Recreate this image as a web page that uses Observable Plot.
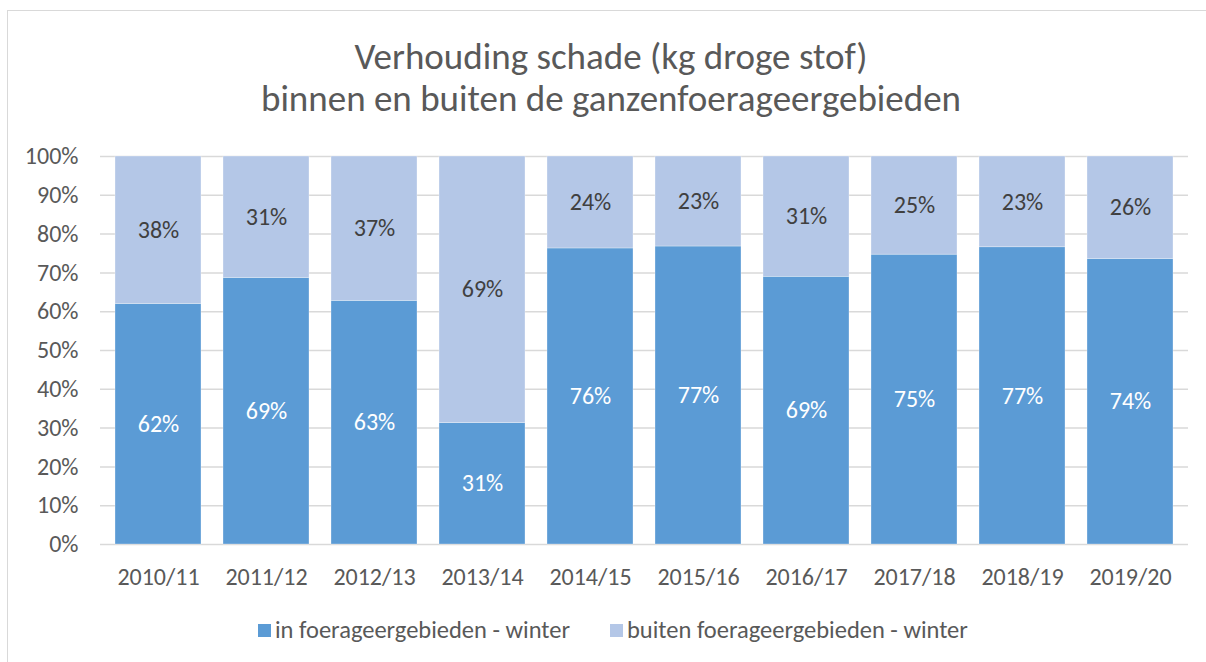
<!DOCTYPE html>
<html>
<head>
<meta charset="utf-8">
<script src="https://cdn.jsdelivr.net/npm/d3@7"></script>
<script src="https://cdn.jsdelivr.net/npm/@observablehq/plot@0.6"></script>
<style>
  html, body { margin: 0; padding: 0; background: #fff; overflow: hidden; }
  body { width: 1206px; height: 662px; position: relative; font-family: Carlito, Calibri, Lato, sans-serif; color: #595959; }
  #frame { position: absolute; left: 7px; top: 10px; width: 1400px; height: 800px; border-left: 1.5px solid #d9d9d9; border-top: 1.5px solid #d9d9d9; }
  #title { position: absolute; left: 8px; width: 1206px; top: 36px; text-align: center; font-size: 37px; line-height: 42px; font-weight: 300; color: #595959; }
  #chart { position: absolute; left: 0; top: 140px; }
  #legend { position: absolute; top: 615px; left: 0; width: 1206px; font-size: 24.5px; color: #595959; }
  .sw { position: absolute; display: flex; align-items: center; white-space: nowrap; }
  .sq { width: 13px; height: 13px; margin-right: 4px; display: inline-block; }
</style>
</head>
<body>
<div id="frame"></div>
<div id="title">Verhouding schade (kg droge stof)<br>binnen en buiten de ganzenfoerageergebieden</div>
<div id="chart"></div>
<div id="legend"></div>
<script>
const seasons = ["2010/11","2011/12","2012/13","2013/14","2014/15","2015/16","2016/17","2017/18","2018/19","2019/20"];
const seriesNames = ["in foerageergebieden - winter", "buiten foerageergebieden - winter"];
const inShare = [62.0, 68.7, 62.8, 31.3, 76.3, 76.8, 69.0, 74.7, 76.6, 73.6];
const outShare = [38.0, 31.3, 37.2, 68.7, 23.7, 23.2, 31.0, 25.3, 23.4, 26.4];
const colors = ["#5B9BD5", "#B4C7E7"];
const labelColors = ["#ffffff", "#404040"];
const yTicks = [0, 0.1, 0.2, 0.3, 0.4, 0.5, 0.6, 0.7, 0.8, 0.9, 1];

const rows = [];
seasons.forEach((s, i) => {
  rows.push({season: s, series: seriesNames[0], value: inShare[i] / 100});
  rows.push({season: s, series: seriesNames[1], value: outShare[i] / 100});
});

const stackOpts = {x: "season", y: "value", order: seriesNames};

const chart = Plot.plot({
  width: 1206,
  height: 460,
  marginLeft: 100,
  marginRight: 18,
  marginTop: 16,
  marginBottom: 56,
  style: {fontFamily: "Carlito, Calibri, Lato, sans-serif", fontSize: "24px", color: "#595959", background: "transparent"},
  x: {domain: seasons, paddingInner: 0.2, paddingOuter: 0.1, label: null, tickSize: 0, tickPadding: 23},
  y: {domain: [0, 1], ticks: yTicks, tickFormat: d3.format(".0%"), label: null, tickSize: 0, tickPadding: 22},
  color: {domain: seriesNames, range: colors},
  marks: [
    Plot.gridY(yTicks, {stroke: "#d9d9d9", strokeOpacity: 1, strokeWidth: 1.5}),
    Plot.barY(rows, Plot.stackY({...stackOpts, fill: "series", stroke: "#ffffff", strokeWidth: 0.6, strokeOpacity: 0.5})),
    Plot.text(rows, Plot.stackY({...stackOpts, text: d => d3.format(".0%")(d.value), z: "series",
      fill: d => labelColors[seriesNames.indexOf(d.series)], fontSize: 24})),
    Plot.axisX({tickSize: 0, tickPadding: 23, fontSize: 24, fill: "#595959"}),
    Plot.axisY({ticks: yTicks, tickFormat: d3.format(".0%"), tickSize: 0, tickPadding: 22, fontSize: 24, fill: "#595959"})
  ]
});
document.getElementById("chart").appendChild(chart);

const legend = document.getElementById("legend");
const lx = [258, 610];
seriesNames.forEach((name, i) => {
  const d = document.createElement("div");
  d.className = "sw";
  d.style.left = lx[i] + "px";
  d.innerHTML = `<span class="sq" style="background:${colors[i]}"></span><span>${name}</span>`;
  legend.appendChild(d);
});
</script>
</body>
</html>
